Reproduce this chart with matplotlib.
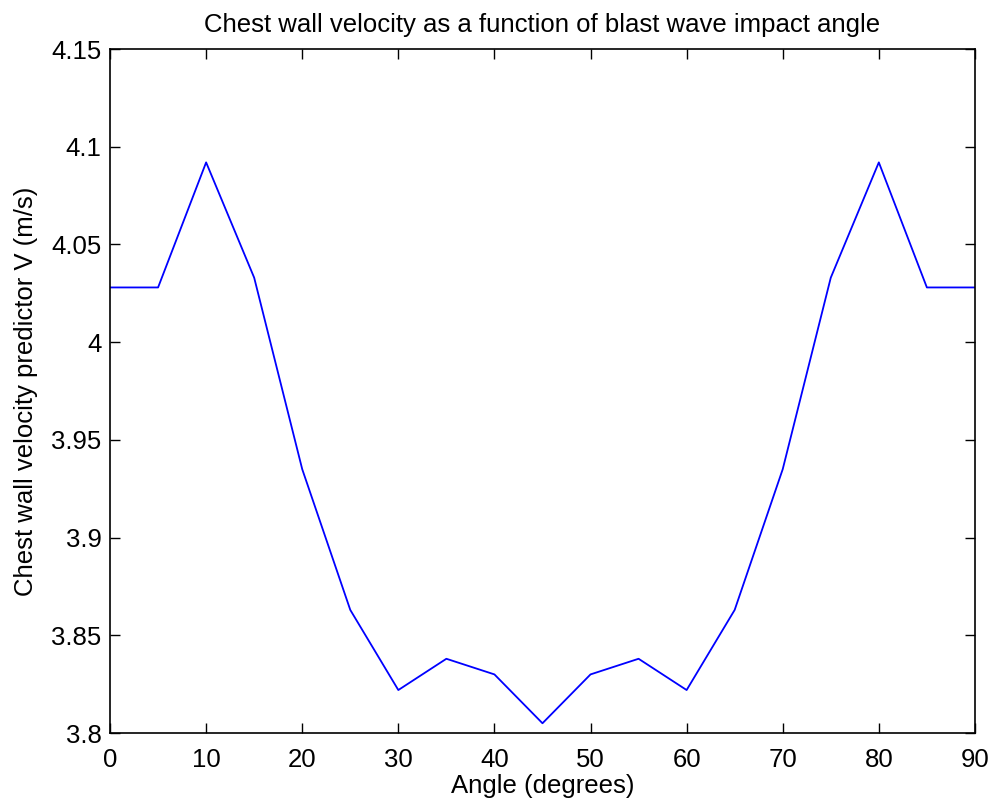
import matplotlib
matplotlib.use('Agg')
import matplotlib.pyplot as plt

# angle (deg) vs chest wall velocity predictor
angles = [0, 5, 10, 15, 20, 25, 30, 35, 40, 45, 50, 55, 60, 65, 70, 75, 80, 85, 90]
velocity = [4.028, 4.028, 4.092, 4.033, 3.935, 3.863, 3.822, 3.838, 3.830, 3.805,
            3.830, 3.838, 3.822, 3.863, 3.935, 4.033, 4.092, 4.028, 4.028]
xticks = list(range(0, 91, 10))
yticks = [3.8, 3.85, 3.9, 3.95, 4.0, 4.05, 4.1, 4.15]
ytick_labels = ['3.8', '3.85', '3.9', '3.95', '4', '4.05', '4.1', '4.15']

plt.rcParams['font.family'] = ['Liberation Sans', 'DejaVu Sans']

fig = plt.figure(figsize=(9.93, 8.05), dpi=100)
ax = fig.add_axes([0.1108, 0.0894, 0.871, 0.8497])

ax.plot(angles, velocity, color='#0000ff', linewidth=1.3)

ax.set_xlim(0, 90)
ax.set_ylim(3.8, 4.15)
ax.set_xticks(xticks)
ax.set_yticks(yticks)
ax.set_yticklabels(ytick_labels)
ax.tick_params(direction='in', length=7, width=1, top=True, right=True,
               labelsize=18.5)
ax.tick_params(axis='y', pad=6)
ax.tick_params(axis='x', pad=11)
for sp in ax.spines.values():
    sp.set_linewidth(1.2)

ax.set_title('Chest wall velocity as a function of blast wave impact angle',
             fontsize=18.5, pad=12)
ax.set_xlabel('Angle (degrees)', fontsize=18.5, labelpad=1)
ax.set_ylabel('Chest wall velocity predictor V (m/s)', fontsize=18.5, labelpad=10)

fig.savefig('out.png', dpi=100, facecolor='white')
